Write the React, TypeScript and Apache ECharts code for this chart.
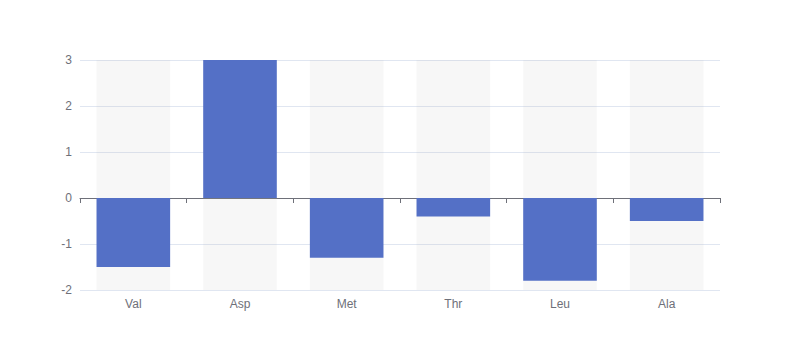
import React, { useEffect, useRef } from "react";
import * as echarts from "echarts";

const categories = ["Val", "Asp", "Met", "Thr", "Leu", "Ala"];
const values = [-1.5, 3, -1.3, -0.4, -1.8, -0.5];

export default function App() {
  const ref = useRef<HTMLDivElement>(null);
  useEffect(() => {
    if (!ref.current) return;
    const chart = echarts.init(ref.current, undefined, { renderer: "svg" });
    chart.setOption({
      animation: false,
      grid: { left: 72, right: 88, top: 52, bottom: 78, containLabel: false },
      xAxis: [
        {
          type: "category",
          data: categories,
          axisLine: { onZero: true, lineStyle: { color: "#6E7079" } },
          axisTick: { show: true },
          axisLabel: { show: false },
        },
        {
          type: "category",
          data: categories,
          position: "bottom",
          axisLine: { show: false, onZero: false },
          axisTick: { show: false },
          axisLabel: { show: true, color: "#6E7079", fontSize: 12 },
        },
      ],
      yAxis: {
        type: "value",
        min: -2,
        max: 3,
        interval: 1,
        axisLabel: { color: "#6E7079", fontSize: 12 },
        splitLine: { lineStyle: { color: "#E0E6F1" } },
      },
      series: [
        {
          type: "bar",
          xAxisIndex: 0,
          data: values,
          barWidth: "69%",
          itemStyle: { color: "#5470c6" },
          showBackground: true,
          backgroundStyle: { color: "rgba(180,180,180,0.1)" },
        },
      ],
    });
    return () => chart.dispose();
  }, []);
  return <div ref={ref} style={{ width: 800, height: 360 }} />;
}
